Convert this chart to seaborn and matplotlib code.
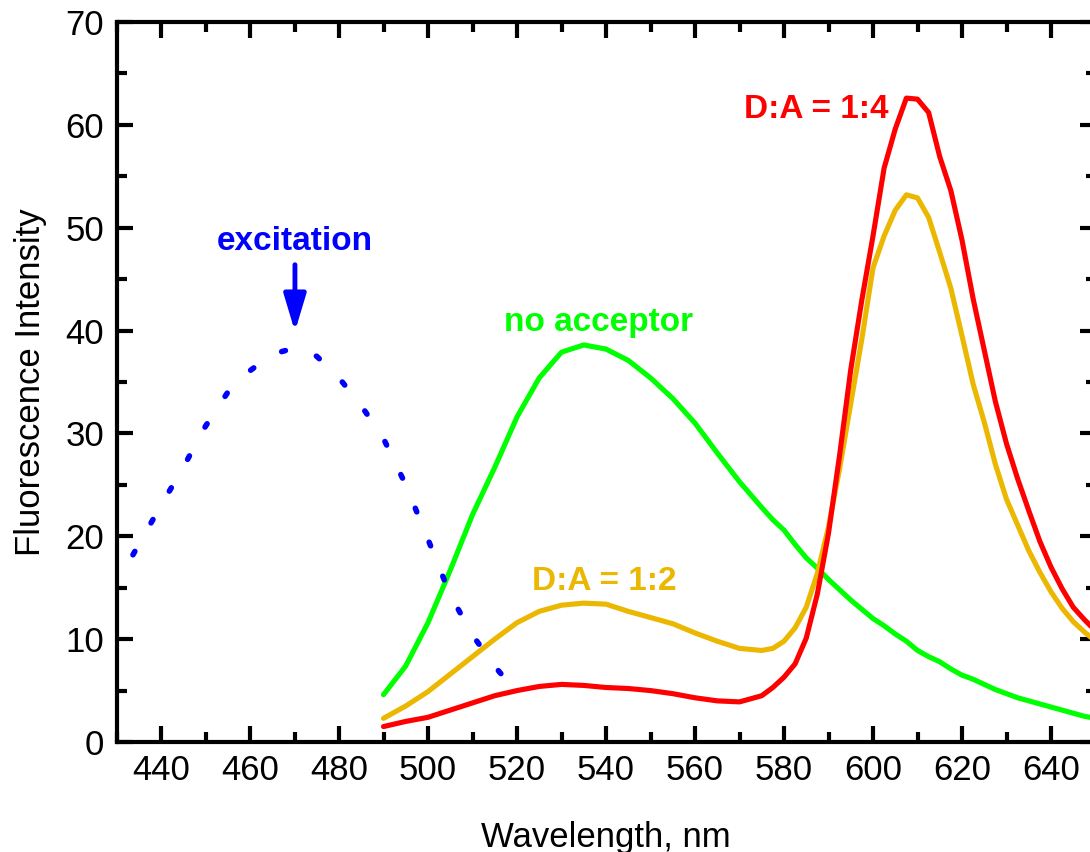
import numpy as np
import pandas as pd
import matplotlib
matplotlib.use("Agg")
import matplotlib.pyplot as plt
from matplotlib.ticker import MultipleLocator
import seaborn as sns

# emission spectra (donor excited)
wl = [490, 495, 500, 505, 510, 515, 520, 525, 530, 535, 540, 545, 550, 555,
      560, 565, 570, 575, 577.5, 580, 582.5, 585, 587.5, 590, 592.5, 595,
      597.5, 600, 602.5, 605, 607.5, 610, 612.5, 615, 617.5, 620, 622.5, 625,
      627.5, 630, 632.5, 635, 637.5, 640, 642.5, 645, 647.5, 650]
no_acceptor = [4.6, 7.4, 11.6, 16.7, 22.1, 26.7, 31.6, 35.4, 37.9, 38.6, 38.2,
               37.1, 35.4, 33.4, 31.0, 28.1, 25.3, 22.8, 21.6, 20.6, 19.2,
               17.9, 16.9, 15.8, 14.8, 13.8, 12.9, 12.0, 11.3, 10.5, 9.8, 8.9,
               8.3, 7.8, 7.1, 6.5, 6.1, 5.6, 5.1, 4.7, 4.3, 4.0, 3.7, 3.4, 3.1,
               2.8, 2.5, 2.3]
da_1_2 = [2.3, 3.5, 4.9, 6.6, 8.3, 10.0, 11.6, 12.7, 13.3, 13.5, 13.4, 12.7,
          12.1, 11.5, 10.6, 9.8, 9.1, 8.9, 9.1, 9.8, 11.1, 13.1, 16.4, 20.9,
          26.6, 32.9, 39.2, 46.1, 49.2, 51.7, 53.2, 52.9, 51.0, 47.6, 44.1,
          39.5, 34.8, 31.1, 27.0, 23.6, 21.1, 18.6, 16.5, 14.6, 13.0, 11.7,
          10.7, 9.8]
da_1_4 = [1.5, 2.0, 2.4, 3.1, 3.8, 4.5, 5.0, 5.4, 5.6, 5.5, 5.3, 5.2, 5.0,
          4.7, 4.3, 4.0, 3.9, 4.5, 5.3, 6.3, 7.6, 10.1, 14.4, 20.3, 27.9, 36.2,
          43.0, 49.2, 55.8, 59.6, 62.6, 62.5, 61.2, 56.9, 53.6, 48.8, 43.1,
          38.1, 33.1, 29.0, 25.6, 22.5, 19.5, 17.0, 14.9, 13.1, 11.9, 10.8]

# excitation spectrum (dotted)
exc_wl = [433.7, 435, 440, 445, 450, 455, 460, 465, 470, 475, 480, 485, 490,
          495, 500, 505, 510, 515, 520]
exc_int = [18.2, 19.2, 23.0, 26.7, 30.7, 34.0, 36.1, 37.7, 38.3, 37.5, 35.4,
           32.7, 29.5, 25.0, 19.7, 14.3, 10.4, 7.35, 4.8]

GREEN = "#00ff00"
ORANGE = "#ebb700"
RED = "#ff0000"
BLUE = "#0000ff"

sns.set_style("ticks", {"axes.edgecolor": "black", "xtick.color": "black",
                        "ytick.color": "black", "text.color": "black",
                        "axes.labelcolor": "black"})
plt.rcParams["font.family"] = ["Liberation Sans", "DejaVu Sans"]

emis = pd.DataFrame({"wl": wl, "no acceptor": no_acceptor,
                     "D:A = 1:2": da_1_2, "D:A = 1:4": da_1_4})
exc = pd.DataFrame({"wl": exc_wl, "intensity": exc_int})

fig = plt.figure(figsize=(10.9, 8.52), dpi=100)
ax = fig.add_axes([116.5 / 1090, 110 / 852, 979 / 1090, 720 / 852])

lw = 3.7
sns.lineplot(data=emis, x="wl", y="no acceptor", color=GREEN, lw=lw, ax=ax)
sns.lineplot(data=emis, x="wl", y="D:A = 1:2", color=ORANGE, lw=lw, ax=ax)
sns.lineplot(data=emis, x="wl", y="D:A = 1:4", color=RED, lw=lw, ax=ax)
sns.lineplot(data=exc, x="wl", y="intensity", color=BLUE, lw=4.0, ax=ax)
ax.lines[-1].set_dashes((0.7, 5.9))
ax.lines[-1].set_dash_capstyle("round")

ax.set_xlim(430, 650)
ax.set_ylim(0, 70)
ax.xaxis.set_major_locator(MultipleLocator(20))
ax.xaxis.set_minor_locator(MultipleLocator(10))
ax.yaxis.set_major_locator(MultipleLocator(10))
ax.yaxis.set_minor_locator(MultipleLocator(5))
ax.tick_params(which="both", direction="in", top=True, right=True,
               width=3, labelsize=25)
ax.tick_params(which="major", length=11.5, pad=9)
ax.tick_params(which="minor", length=7)
for s in ax.spines.values():
    s.set_linewidth(3)
    s.set_visible(True)

ax.set_xlabel("Wavelength, nm", fontsize=25, labelpad=24)
ax.set_ylabel("Fluorescence Intensity", fontsize=25, labelpad=13)

tkw = dict(fontsize=24, fontweight="bold", ha="center", va="baseline")
ax.text(470.1, 47.8, "excitation", color=BLUE, **tkw)
ax.text(538.3, 40.0, "no acceptor", color=GREEN, **tkw)
ax.text(539.6, 14.8, "D:A = 1:2", color=ORANGE, **tkw)
ax.text(587.2, 60.7, "D:A = 1:4", color=RED, **tkw)
ax.annotate("", xy=(470.1, 39.9), xytext=(470.1, 46.4),
            arrowprops=dict(arrowstyle="-|>,head_length=1.5,head_width=0.45",
                            mutation_scale=15, lw=3.5, color=BLUE,
                            shrinkA=0, shrinkB=0))

fig.savefig("out.png", dpi=100)
